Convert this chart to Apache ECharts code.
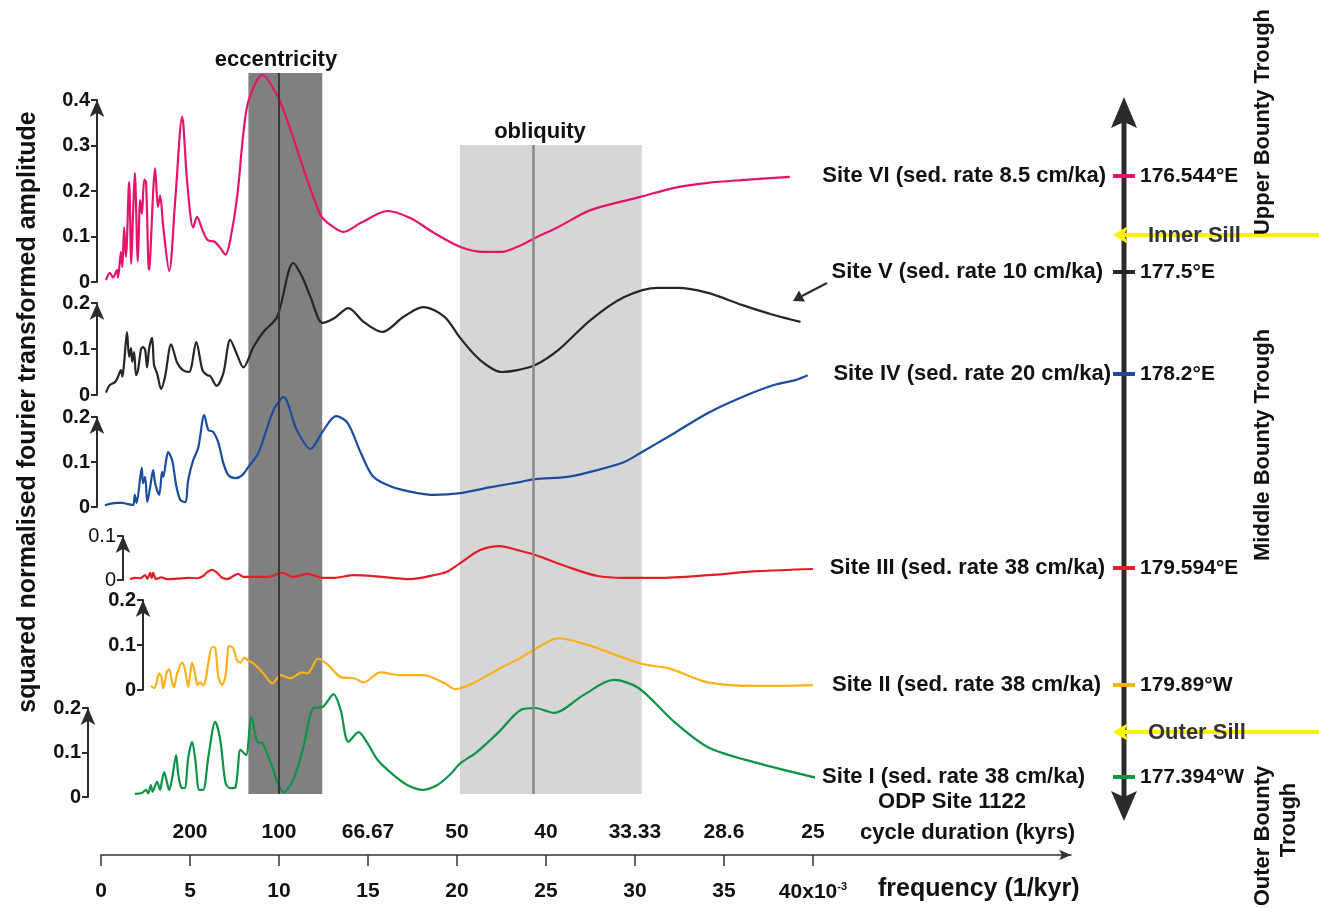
<!DOCTYPE html>
<html>
<head>
<meta charset="utf-8">
<script src="https://cdn.jsdelivr.net/npm/echarts@6/dist/echarts.min.js"></script>
<style>
  html, body { margin: 0; padding: 0; background: #fff; }
  #chart { width: 1319px; height: 908px; }
</style>
</head>
<body>
<div id="chart"></div>
<script>
// frequency (x10^-3 1/kyr), squared normalised amplitude
const siteVI = [[0.28,0.004],[0.5,0.02],[0.68,0.01],[0.9,0.026],[0.96,0.01],[1.12,0.066],[1.2,0.033],[1.3,0.12],[1.4,0.055],[1.58,0.22],[1.7,0.04],[1.8,0.15],[1.9,0.24],[2.07,0.045],[2.2,0.18],[2.3,0.15],[2.43,0.225],[2.53,0.22],[2.7,0.026],[3.04,0.25],[3.2,0.165],[3.32,0.19],[3.5,0.12],[3.83,0.024],[4.17,0.18],[4.56,0.363],[4.84,0.22],[5.18,0.12],[5.4,0.143],[5.7,0.114],[6.0,0.092],[6.4,0.088],[6.7,0.075],[7.0,0.06],[7.26,0.092],[7.65,0.187],[8.0,0.327],[8.3,0.4],[9.07,0.455],[9.9,0.41],[10.6,0.34],[11.4,0.246],[12.05,0.174],[12.4,0.143],[12.9,0.125],[13.6,0.11],[14.6,0.13],[16.1,0.156],[17.4,0.14],[18.7,0.108],[20.2,0.077],[21.5,0.066],[22.5,0.066],[23.6,0.081],[24.4,0.097],[25.7,0.121],[27.5,0.158],[30.3,0.187],[32.2,0.207],[34.1,0.218],[36,0.224],[38.7,0.231]];
const siteV = [[0.28,0.005],[0.5,0.022],[0.79,0.028],[0.96,0.04],[1.12,0.054],[1.2,0.04],[1.3,0.07],[1.46,0.137],[1.58,0.083],[1.69,0.102],[1.75,0.072],[1.86,0.093],[1.97,0.043],[2.08,0.054],[2.25,0.1],[2.36,0.104],[2.48,0.098],[2.59,0.06],[2.7,0.1],[2.87,0.124],[2.98,0.065],[3.15,0.047],[3.38,0.013],[3.6,0.04],[3.94,0.11],[4.28,0.07],[4.6,0.054],[4.95,0.05],[5.35,0.115],[5.7,0.054],[5.97,0.043],[6.14,0.041],[6.5,0.02],[6.87,0.047],[7.26,0.12],[7.65,0.087],[8.0,0.06],[8.56,0.104],[9.12,0.137],[9.9,0.17],[10.8,0.287],[11.3,0.257],[11.77,0.213],[12.44,0.157],[13.1,0.167],[13.9,0.189],[14.75,0.159],[15.8,0.137],[17.0,0.17],[18.1,0.191],[19.3,0.17],[20.2,0.123],[21.3,0.076],[22.5,0.05],[23.4,0.054],[24.4,0.065],[25.7,0.098],[27.5,0.163],[29.4,0.213],[31.3,0.233],[32.4,0.233],[34.1,0.222],[36,0.196],[37.8,0.174],[39.3,0.159]];
const siteIV = [[0.22,0.004],[0.9,0.009],[1.2,0.009],[1.46,0.007],[1.8,0.004],[1.9,0.027],[2.0,0.009],[2.29,0.087],[2.36,0.053],[2.48,0.067],[2.6,0.011],[2.76,0.044],[2.93,0.082],[3.04,0.053],[3.27,0.027],[3.43,0.078],[3.5,0.067],[3.66,0.104],[3.77,0.122],[4.0,0.104],[4.22,0.049],[4.45,0.016],[4.73,0.011],[4.9,0.06],[5.18,0.104],[5.46,0.131],[5.8,0.204],[6.03,0.171],[6.3,0.167],[6.6,0.142],[6.87,0.098],[7.15,0.071],[7.55,0.064],[7.94,0.071],[8.28,0.089],[8.84,0.12],[9.7,0.216],[10.25,0.244],[11.0,0.171],[11.77,0.129],[12.44,0.167],[13.2,0.202],[13.85,0.187],[14.6,0.12],[15.3,0.067],[16.4,0.044],[17.8,0.031],[18.7,0.027],[20.2,0.031],[21.9,0.044],[23.6,0.056],[24.4,0.062],[26.2,0.067],[27.5,0.078],[29.4,0.1],[30.3,0.12],[32.2,0.164],[34.1,0.209],[36,0.244],[37.8,0.271],[39,0.282],[39.7,0.293]];
const siteIII = [[1.63,0.002],[1.9,0.005],[2.2,0.004],[2.48,0.011],[2.6,0.003],[2.76,0.016],[2.85,0.004],[2.93,0.016],[3.1,0.002],[3.4,0.006],[3.7,0.002],[4.3,0.003],[4.9,0.005],[5.4,0.004],[5.74,0.009],[5.97,0.018],[6.25,0.023],[6.53,0.016],[6.8,0.005],[7.1,0.002],[7.43,0.009],[7.7,0.014],[8.0,0.007],[8.28,0.007],[9.35,0.007],[10.2,0.016],[10.8,0.007],[11.6,0.014],[12.44,0.005],[13.1,0.005],[14.2,0.011],[15.3,0.009],[17.4,0.002],[18.7,0.011],[19.4,0.018],[20.2,0.039],[21.3,0.068],[22.4,0.077],[23.4,0.068],[24.4,0.057],[26.2,0.03],[27.9,0.009],[29.4,0.005],[31.3,0.005],[34.1,0.011],[36.9,0.02],[40,0.025]];
const siteII = [[2.8,0.009],[3.0,0.004],[3.27,0.037],[3.4,0.028],[3.5,0.004],[3.7,0.04],[3.83,0.046],[4.0,0.017],[4.1,0.006],[4.28,0.037],[4.56,0.061],[4.73,0.043],[4.9,0.007],[5.12,0.061],[5.3,0.033],[5.4,0.011],[5.57,0.017],[5.74,0.01],[5.9,0.026],[6.0,0.054],[6.25,0.096],[6.42,0.093],[6.6,0.028],[6.8,0.011],[7.0,0.033],[7.2,0.098],[7.43,0.093],[7.65,0.065],[7.83,0.061],[8.05,0.072],[8.28,0.065],[8.56,0.059],[9.12,0.037],[9.63,0.015],[10.1,0.033],[10.64,0.026],[11.3,0.039],[11.6,0.037],[12.2,0.07],[12.8,0.054],[13.5,0.028],[14.2,0.026],[14.75,0.017],[15.7,0.039],[16.8,0.033],[18.1,0.033],[19.3,0.015],[19.9,0.002],[20.9,0.015],[22.5,0.05],[23.6,0.072],[24.4,0.091],[25.7,0.115],[27.5,0.098],[30.3,0.059],[31.9,0.048],[34.1,0.017],[36.9,0.009],[40,0.011]];
const siteI = [[1.9,0.007],[2.3,0.009],[2.53,0.016],[2.65,0.008],[2.8,0.027],[2.9,0.012],[3.15,0.034],[3.32,0.016],[3.43,0.038],[3.55,0.056],[3.7,0.034],[3.83,0.016],[4.0,0.043],[4.22,0.094],[4.33,0.054],[4.5,0.022],[4.7,0.02],[4.9,0.088],[5.12,0.124],[5.3,0.083],[5.52,0.016],[5.74,0.016],[6.03,0.09],[6.42,0.169],[6.7,0.128],[7.0,0.031],[7.26,0.02],[7.55,0.022],[7.83,0.106],[8.0,0.1],[8.16,0.094],[8.45,0.18],[8.78,0.124],[9.07,0.121],[9.63,0.067],[9.9,0.034],[10.25,0.011],[10.8,0.038],[11.37,0.112],[11.94,0.2],[12.44,0.202],[13.06,0.231],[13.46,0.196],[13.9,0.124],[14.47,0.146],[14.97,0.121],[15.54,0.083],[16.44,0.049],[17.2,0.027],[18.07,0.016],[18.9,0.027],[19.6,0.05],[20.2,0.076],[21.06,0.099],[22.35,0.146],[23.6,0.196],[24.4,0.2],[25.45,0.189],[27.1,0.229],[28.8,0.263],[30.2,0.245],[32.2,0.169],[34.1,0.112],[36.9,0.076],[40.2,0.043]];

const panelMax = [0.4, 0.2, 0.2, 0.1, 0.2, 0.2];
const freqTicks = [0, 5, 10, 15, 20, 25, 30, 35, 40];
const durationTicks = [5, 10, 15, 20, 25, 30, 35, 40];
const durationLabels = ['200', '100', '66.67', '50', '40', '33.33', '28.6', '25'];
const eccBand = [8.28, 12.43];
const oblBand = [20.17, 30.38];
const eccLine = 10;
const oblLine = 24.3;

const siteNames = ['Site VI (sed. rate 8.5 cm/ka)', 'Site V (sed. rate 10 cm/ka)', 'Site IV (sed. rate 20 cm/ka)',
  'Site III (sed. rate 38 cm/ka)', 'Site II (sed. rate 38 cm/ka)', 'Site I (sed. rate 38 cm/ka)'];
const siteCoords = ['176.544°E', '177.5°E', '178.2°E', '179.594°E', '179.89°W', '177.394°W'];

const FONT = '"Liberation Sans", Arial, sans-serif';
const colors = ['#e5136e', '#262626', '#1a4d9e', '#e41e26', '#fbb117', '#0d9447'];

// layout of the six stacked panels (pixels)
const panels = [
  { data: siteVI,  top: 100, zero: 282, axisX: 97,  bold: true },
  { data: siteV,   top: 303, zero: 395, axisX: 97,  bold: true },
  { data: siteIV,  top: 417, zero: 507, axisX: 97,  bold: true },
  { data: siteIII, top: 536, zero: 580, axisX: 123, bold: false },
  { data: siteII,  top: 600, zero: 690, axisX: 143, bold: true },
  { data: siteI,   top: 708, zero: 797, axisX: 88,  bold: true },
];
const siteTickY = [176, 272, 374, 568, 685, 777];
const siteLabelRight = [1106, 1103, 1111, 1105, 1101, 1085];

const chart = echarts.init(document.getElementById('chart'));

const grid = [], xAxis = [], yAxis = [], series = [];
const PLOT_LEFT = 101, PLOT_RIGHT = 506;

// band grid (index 0)
grid.push({ left: PLOT_LEFT, right: PLOT_RIGHT, top: 73, bottom: 114 });
xAxis.push({ gridIndex: 0, type: 'value', min: 0, max: 40, show: false });
yAxis.push({ gridIndex: 0, type: 'value', min: 0, max: 1, show: false });
series.push({
  type: 'line', xAxisIndex: 0, yAxisIndex: 0, data: [[0, -1]], showSymbol: false,
  lineStyle: { opacity: 0 }, silent: true, z: 1,
  markArea: {
    silent: true,
    data: [
      [{ xAxis: eccBand[0], yAxis: 0, itemStyle: { color: '#808080' } }, { xAxis: eccBand[1], yAxis: 1 }],
      [{ xAxis: oblBand[0], yAxis: 0, itemStyle: { color: '#d6d6d6' } }, { xAxis: oblBand[1], yAxis: 0.9 }],
    ],
  },
  markLine: {
    silent: true, symbol: ['none', 'none'], label: { show: false },
    data: [
      [{ coord: [eccLine, 0], lineStyle: { color: '#3a3a3a', width: 2, type: 'solid' } }, { coord: [eccLine, 1] }],
      [{ coord: [oblLine, 0], lineStyle: { color: '#8a8a8a', width: 2.5, type: 'solid' } }, { coord: [oblLine, 0.9] }],
    ],
  },
});

panels.forEach((p, i) => {
  const gi = i + 1;
  grid.push({ left: PLOT_LEFT, right: PLOT_RIGHT, top: p.top, height: p.zero - p.top });
  xAxis.push({ gridIndex: gi, type: 'value', min: 0, max: 40, show: false });
  yAxis.push({
    gridIndex: gi, type: 'value', min: 0, max: panelMax[i], interval: 0.1,
    position: 'left', offset: PLOT_LEFT - p.axisX,
    axisLine: { show: true, onZero: false, symbol: ['none', 'arrow'], symbolSize: [11, 17],
      lineStyle: { color: '#2b2b2b', width: 2 } },
    axisTick: { show: true, length: 6, lineStyle: { color: '#2b2b2b', width: 2 } },
    splitLine: { show: false },
    axisLabel: {
      margin: 7, fontSize: 20, fontFamily: FONT, color: '#111',
      fontWeight: p.bold ? 'bold' : 'normal',
      formatter: v => (v === 0 ? '0' : v.toFixed(1)),
    },
  });
  series.push({
    type: 'line', xAxisIndex: gi, yAxisIndex: gi, data: p.data,
    smooth: 0.3, showSymbol: false, clip: false, z: 3,
    lineStyle: { color: colors[i], width: 2.2 },
  });
});

// frequency / cycle duration axis (last grid)
const AXIS_GRID = grid.length;
grid.push({ left: PLOT_LEFT, right: 248, top: 849, height: 6 });
xAxis.push({
  gridIndex: AXIS_GRID, type: 'value', min: 0, max: 54.5, position: 'bottom',
  axisLine: { show: true, onZero: false, symbol: ['none', 'arrow'], symbolSize: [8, 12],
    lineStyle: { color: '#333', width: 1.5 } },
  axisTick: { show: true, customValues: freqTicks, length: 11, lineStyle: { color: '#333', width: 1.5 } },
  axisLabel: {
    customValues: freqTicks, margin: 26, fontSize: 21, fontWeight: 'bold', fontFamily: FONT, color: '#111',
    formatter: v => (v === 40 ? '40x10{sup|-3}' : String(v)),
    rich: { sup: { fontSize: 11, fontWeight: 'bold', fontFamily: FONT, color: '#111', padding: [0, 0, 12, 0] } },
  },
  splitLine: { show: false },
});
xAxis.push({
  gridIndex: AXIS_GRID, type: 'value', min: 0, max: 54.5, position: 'top',
  axisLine: { show: false },
  axisTick: { show: true, inside: true, customValues: durationTicks, length: 6, lineStyle: { color: '#333', width: 1.5 } },
  axisLabel: {
    customValues: durationTicks, margin: 6, fontSize: 21, fontWeight: 'bold', fontFamily: FONT, color: '#111',
    formatter: v => durationLabels[durationTicks.indexOf(v)] || '',
  },
  splitLine: { show: false },
});
yAxis.push({ gridIndex: AXIS_GRID, type: 'value', show: false });

// annotations
const txt = (text, x, y, opts) => ({
  type: 'text', x, y, z: 10, silent: true,
  style: Object.assign({ text, fill: '#111', font: 'bold 22px ' + FONT, align: 'left', verticalAlign: 'middle' }, opts || {}),
});
const graphic = [];
graphic.push(Object.assign(txt('squared normalised fourier transformed amplitude', 28, 412,
  { align: 'center', font: 'bold 25px ' + FONT }), { rotation: Math.PI / 2 }));
graphic.push(txt('eccentricity', 276, 60, { align: 'center' }));
graphic.push(txt('obliquity', 540, 132, { align: 'center' }));
graphic.push(txt('cycle duration (kyrs)', 860, 833));
graphic.push(txt('frequency (1/kyr)', 878, 889, { font: 'bold 25px ' + FONT }));

// site axis on the right
const AX = 1124;
graphic.push({ type: 'line', z: 5, silent: true, shape: { x1: AX, y1: 120, x2: AX, y2: 800 },
  style: { stroke: '#2b2b2b', lineWidth: 5 } });
graphic.push({ type: 'polygon', z: 5, silent: true, shape: { points: [[AX, 97], [AX - 13, 128], [AX, 122], [AX + 13, 128]] },
  style: { fill: '#2b2b2b' } });
graphic.push({ type: 'polygon', z: 5, silent: true, shape: { points: [[AX, 821], [AX - 13, 791], [AX, 797], [AX + 13, 791]] },
  style: { fill: '#2b2b2b' } });
siteNames.forEach((name, i) => {
  const y = siteTickY[i];
  graphic.push({ type: 'rect', z: 6, silent: true, shape: { x: AX - 11, y: y - 2, width: 22, height: 4 },
    style: { fill: colors[i] } });
  graphic.push(txt(name, siteLabelRight[i], y, { align: 'right' }));
  graphic.push(txt(siteCoords[i], 1140, y, { font: 'bold 21px ' + FONT }));
});
graphic.push(txt('ODP Site 1122', 952, 802, { align: 'center' }));

// sills
[['Inner Sill', 235], ['Outer Sill', 732]].forEach(([label, y]) => {
  graphic.push({ type: 'line', z: 7, silent: true, shape: { x1: 1124, y1: y, x2: 1319, y2: y },
    style: { stroke: '#fff200', lineWidth: 4 } });
  graphic.push({ type: 'polygon', z: 7, silent: true,
    shape: { points: [[1113, y], [1128, y - 9], [1124, y], [1128, y + 9]] }, style: { fill: '#fff200' } });
  graphic.push(Object.assign(txt(label, 1148, y + 1, { fill: '#333' }), { z: 8 }));
});

// Site V pointer
graphic.push({ type: 'line', z: 5, silent: true, shape: { x1: 827, y1: 283, x2: 802, y2: 296 },
  style: { stroke: '#2b2b2b', lineWidth: 2 } });
graphic.push({ type: 'polygon', z: 5, silent: true, shape: { points: [[793, 301], [805, 301.5], [799, 290.5]] },
  style: { fill: '#2b2b2b' } });

// trough names
graphic.push(Object.assign(txt('Upper Bounty Trough', 1263, 122, { align: 'center' }), { rotation: Math.PI / 2 }));
graphic.push(Object.assign(txt('Middle Bounty Trough', 1263, 445, { align: 'center' }), { rotation: Math.PI / 2 }));
graphic.push(Object.assign(txt('Outer Bounty', 1263, 836, { align: 'center' }), { rotation: Math.PI / 2 }));
graphic.push(Object.assign(txt('Trough', 1289, 820, { align: 'center' }), { rotation: Math.PI / 2 }));

chart.setOption({
  animation: false,
  backgroundColor: '#fff',
  grid, xAxis, yAxis, series, graphic,
});

window.addEventListener('resize', () => chart.resize());
</script>
</body>
</html>
